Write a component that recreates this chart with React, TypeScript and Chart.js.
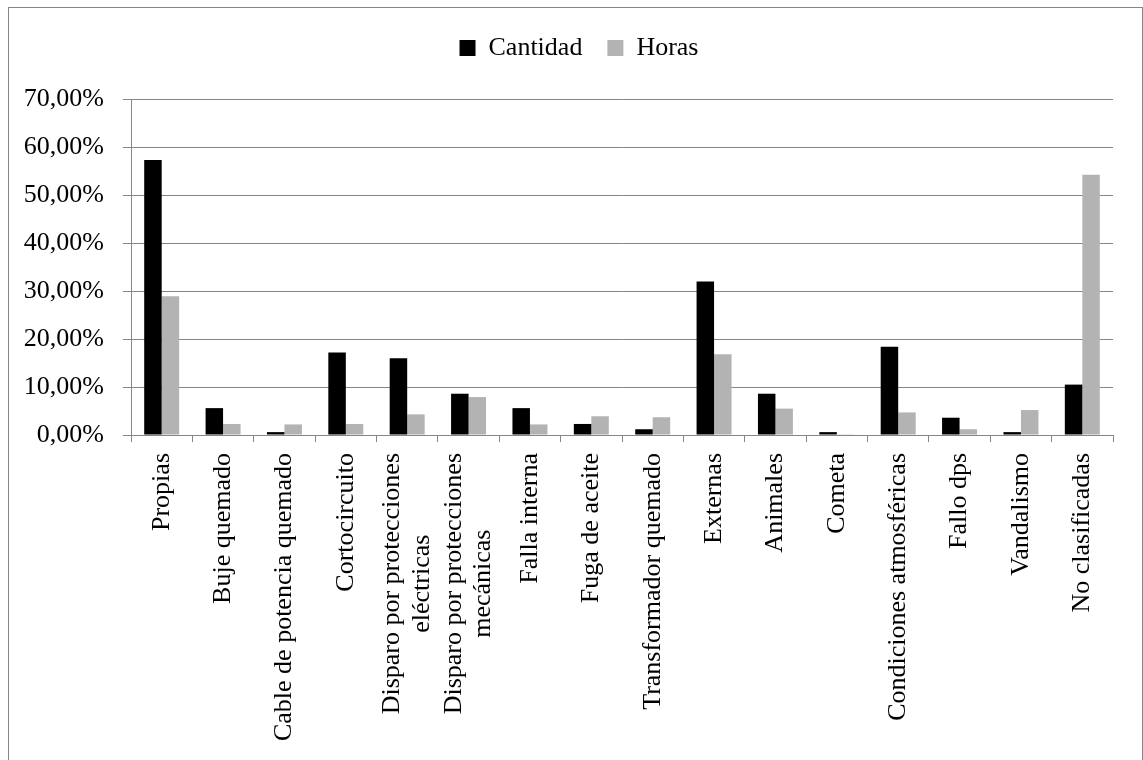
import { useEffect, useRef } from "react";
import { Chart, registerables } from "chart.js";

Chart.register(...registerables);

const categories: (string | string[])[] = [
  "Propias",
  "Buje quemado",
  "Cable de potencia quemado",
  "Cortocircuito",
  ["Disparo por protecciones", "eléctricas"],
  ["Disparo por protecciones", "mecánicas"],
  "Falla interna",
  "Fuga de aceite",
  "Transformador quemado",
  "Externas",
  "Animales",
  "Cometa",
  "Condiciones atmosféricas",
  "Fallo dps",
  "Vandalismo",
  "No clasificadas",
];

const seriesNames = ["Cantidad", "Horas"];
const cantidad = [57.3, 5.6, 0.6, 17.2, 16.0, 8.6, 5.6, 2.3, 1.2, 32.0, 8.6, 0.6, 18.4, 3.6, 0.6, 10.5];
const horas = [28.9, 2.3, 2.2, 2.3, 4.3, 7.9, 2.2, 3.9, 3.7, 16.8, 5.5, 0.05, 4.7, 1.2, 5.2, 54.2];
const yMin = 0;
const yMax = 70;
const yStep = 10;

const FONT = '"Liberation Serif", "Times New Roman", Times, serif';
const FONT_SIZE = 26;
const GRID = "#868686";

const legendSpacer = {
  id: "legendSpacer",
  beforeInit(chart: any) {
    const lg = chart.legend;
    if (!lg) return;
    const orig = lg.fit;
    lg.fit = function () {
      orig.call(this);
      this.height = 89;
    };
  },
  afterLayout(chart: any) {
    const lg = chart.legend;
    if (!lg) return;
    lg.left += 18;
    lg.right += 18;
  },
};

const xLabels = {
  id: "xLabels",
  afterDraw(chart: any) {
    const sc = chart.scales.x;
    const ctx = chart.ctx as CanvasRenderingContext2D;
    ctx.save();
    ctx.font = `${FONT_SIZE}px ${FONT}`;
    ctx.fillStyle = "#000";
    ctx.textBaseline = "middle";
    ctx.textAlign = "center";
    const lh = FONT_SIZE * 1.12;
    const top = sc.top + 7 + 11;
    categories.forEach((c, i) => {
      const lines = Array.isArray(c) ? c : [c];
      const maxW = Math.max(...lines.map((l) => ctx.measureText(l).width));
      const x = sc.getPixelForTick(i);
      ctx.save();
      ctx.translate(x, top);
      ctx.rotate(-Math.PI / 2);
      lines.forEach((l, j) => ctx.fillText(l, -maxW / 2, (j - (lines.length - 1) / 2) * lh));
      ctx.restore();
    });
    ctx.restore();
  },
};

export default function App() {
  const ref = useRef<HTMLCanvasElement>(null);

  useEffect(() => {
    const canvas = ref.current!;
    const chart = new Chart(canvas, {
      type: "bar",
      data: {
        labels: categories.map((c) => (Array.isArray(c) ? c.join(" ") : c)),
        datasets: [
          {
            label: seriesNames[0],
            data: cantidad,
            backgroundColor: "#000000",
            borderWidth: 0,
            categoryPercentage: 0.57,
            barPercentage: 1,
          },
          {
            label: seriesNames[1],
            data: horas,
            backgroundColor: "#b3b3b3",
            borderWidth: 0,
            categoryPercentage: 0.57,
            barPercentage: 1,
          },
        ],
      },
      options: {
        responsive: false,
        maintainAspectRatio: false,
        animation: false,
        layout: { padding: { top: 2, right: 29, bottom: 0, left: 0 } },
        plugins: {
          legend: {
            position: "top",
            labels: {
              boxWidth: 16,
              boxHeight: 16,
              padding: 25,
              color: "#000",
              font: { family: FONT, size: FONT_SIZE },
            },
          },
          tooltip: { enabled: false },
        },
        scales: {
          x: {
            grid: {
              display: true,
              drawOnChartArea: false,
              drawTicks: true,
              tickLength: 7,
              color: GRID,
              offset: true,
            },
            border: { display: true, color: GRID },
            ticks: {
              display: false,
              autoSkip: false,
            },
            afterFit(scale: any) {
              scale.height = 331;
            },
          },
          y: {
            min: yMin,
            max: yMax,
            grid: { color: GRID, tickLength: 8, drawTicks: true },
            border: { display: true, color: GRID },
            ticks: {
              stepSize: yStep,
              padding: 19,
              color: "#000",
              font: { family: FONT, size: FONT_SIZE },
              callback: (v: any) => Number(v).toFixed(2).replace(".", ",") + "%",
            },
            afterFit(scale: any) {
              scale.width = 122;
            },
          },
        },
      },
      plugins: [legendSpacer, xLabels],
    });
    return () => chart.destroy();
  }, []);

  return (
    <div
      style={{
        position: "absolute",
        left: 8,
        top: 7,
        width: 1135,
        height: 760,
        border: `1px solid ${GRID}`,
        boxSizing: "border-box",
        background: "#fff",
      }}
    >
      <canvas ref={ref} width={1133} height={758} style={{ display: "block" }} />
    </div>
  );
}
